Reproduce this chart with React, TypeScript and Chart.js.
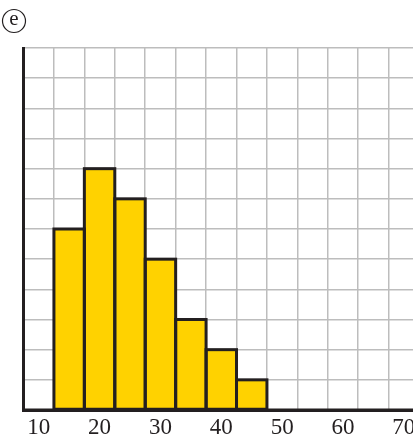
import React, { useEffect, useRef } from 'react';
import { Chart, registerables } from 'chart.js';

Chart.register(...registerables);

// ---- data ----
const binCenters: number[] = [15, 20, 25, 30, 35, 40, 45];
const frequencies: number[] = [6, 8, 7, 5, 3, 2, 1];
const xTickLabels: number[] = [10, 20, 30, 40, 50, 60, 70];
const xMin = 7.5;
const xMax = 71.5;
const binWidth = 5;
const yMax = 12;
const panelLabel = 'e';

const FONT = '"Liberation Serif", "DejaVu Serif", serif';
const BAR_FILL = '#FFD200';
const INK = '#231f20';
const GRID = '#bdbdbd';

export default function App() {
  const ref = useRef<HTMLCanvasElement | null>(null);

  useEffect(() => {
    document.body.style.margin = '0';
    const canvas = ref.current!;
    const outlinePlugin = {
      id: 'outlines',
      afterDraw(chart: any) {
        const ctx = chart.ctx;
        const meta = chart.getDatasetMeta(0);
        ctx.save();
        ctx.strokeStyle = INK;
        ctx.lineWidth = 3;
        ctx.lineJoin = 'miter';
        meta.data.forEach((el: any) => {
          const { x, y, base, width } = el.getProps(['x', 'y', 'base', 'width'], true);
          ctx.strokeRect(x - width / 2, y, width, base - y);
        });
        // axes lines on top
        const { left, top, bottom } = chart.chartArea;
        ctx.beginPath();
        ctx.moveTo(left, top);
        ctx.lineTo(left, bottom);
        ctx.lineTo(chart.width, bottom);
        ctx.stroke();
        // panel label
        ctx.lineWidth = 1.2;
        ctx.beginPath();
        ctx.arc(14, 21, 11.5, 0, Math.PI * 2);
        ctx.stroke();
        ctx.fillStyle = INK;
        ctx.font = `21px ${FONT}`;
        ctx.textAlign = 'center';
        ctx.textBaseline = 'middle';
        ctx.fillText(panelLabel, 14, 19.5);
        ctx.restore();
      },
    };

    const chart = new Chart(canvas, {
      type: 'bar',
      data: {
        datasets: [
          {
            data: binCenters.map((c, i) => ({ x: c, y: frequencies[i] })),
            backgroundColor: BAR_FILL,
            borderWidth: 0,
            barPercentage: 2,
            categoryPercentage: 1,
          },
        ],
      },
      options: {
        animation: false,
        responsive: false,
        devicePixelRatio: 1,
        layout: { padding: { left: 23.5, top: 48, right: 0, bottom: 0 } },
        plugins: { legend: { display: false }, tooltip: { enabled: false } },
        scales: {
          x: {
            type: 'linear',
            min: xMin,
            max: xMax,
            offset: false,
            z: 1,
            afterBuildTicks: (scale: any) => {
              const ticks: { value: number }[] = [];
              for (let v = xMin; v <= xMax + 1e-9; v += binWidth / 2) ticks.push({ value: v });
              scale.ticks = ticks;
            },
            afterFit: (scale: any) => {
              scale.height = 30;
              scale.paddingLeft = 0;
              scale.paddingRight = 0;
            },
            grid: {
              offset: false,
              drawTicks: false,
              lineWidth: 1.5,
              color: (ctx: any) => {
                const v = ctx.tick ? ctx.tick.value : 0;
                return Math.abs(((v - xMin) % binWidth)) < 1e-6 ? GRID : 'rgba(0,0,0,0)';
              },
            },
            border: { display: true, color: INK, width: 3 },
            ticks: {
              autoSkip: false,
              maxRotation: 0,
              padding: 4,
              color: INK,
              font: { family: FONT, size: 23 },
              callback: (v: any) => (xTickLabels.includes(Number(v)) ? String(v) : ''),
            },
          },
          y: {
            type: 'linear',
            min: 0,
            max: yMax,
            z: 1,
            ticks: { display: false, stepSize: 1 },
            grid: { drawTicks: false, lineWidth: 1.5, color: GRID },
            border: { display: true, color: INK, width: 3 },
          },
        },
      },
      plugins: [outlinePlugin],
    } as any);
    return () => chart.destroy();
  }, []);

  return (
    <div style={{ position: 'absolute', left: 0, top: 0, width: 413, height: 440, background: '#fff' }}>
      <canvas ref={ref} width={413} height={440} style={{ display: 'block' }} />
    </div>
  );
}
